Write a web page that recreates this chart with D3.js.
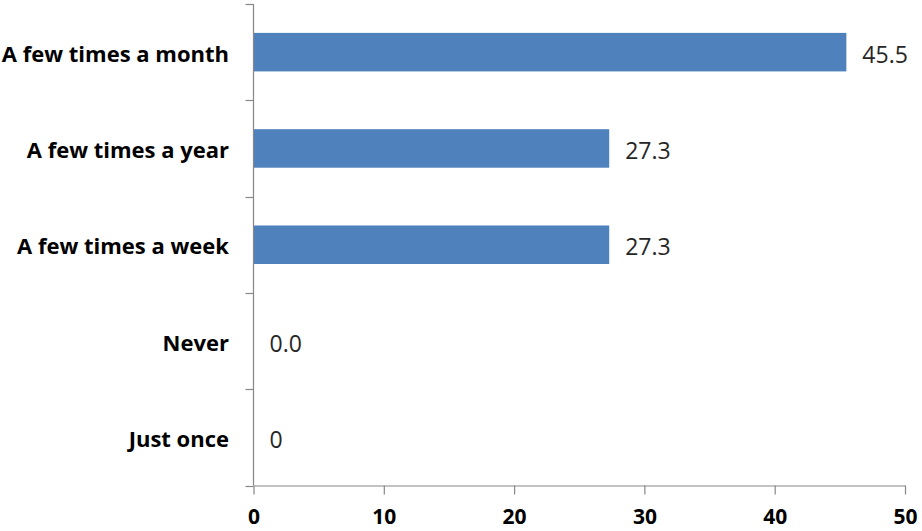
<!DOCTYPE html>
<html>
<head>
<meta charset="utf-8">
<script src="https://cdn.jsdelivr.net/npm/d3@7/dist/d3.min.js"></script>
<style>
  html, body { margin: 0; padding: 0; background: #ffffff; }
  svg { display: block; }
</style>
</head>
<body>
<svg id="chart" width="922" height="531"></svg>
<script>
const categories = ["A few times a month", "A few times a year", "A few times a week", "Never", "Just once"];
const values = [45.5, 27.3, 27.3, 0.0, 0];
const valueLabels = ["45.5", "27.3", "27.3", "0.0", "0"];
const xTicks = [0, 10, 20, 30, 40, 50];

(function () {
const svg = d3.select("#chart");
const plotLeft = 253.5, plotRight = 905, plotTop = 4, plotBottom = 485.5;

const x = d3.scaleLinear().domain([0, 50]).range([plotLeft, plotRight]);
const y = d3.scaleBand().domain(categories).range([plotTop, plotBottom])
  .paddingInner(0.6).paddingOuter(0.3);
const step = y.step();

// bars
svg.append("g").selectAll("rect")
  .data(categories)
  .join("rect")
  .attr("x", x(0))
  .attr("y", d => y(d))
  .attr("width", (d, i) => x(values[i]) - x(0))
  .attr("height", y.bandwidth())
  .attr("fill", "#4f81bd");

// value labels
svg.append("g").selectAll("text")
  .data(categories)
  .join("text")
  .attr("x", (d, i) => x(values[i]) + 16)
  .attr("y", d => y(d) + y.bandwidth() / 2 + 10.5)
  .attr("font-family", "'Open Sans', sans-serif")
  .attr("font-size", 23)
  .attr("fill", "#262626")
  .text((d, i) => valueLabels[i]);

// category labels
svg.append("g").selectAll("text")
  .data(categories)
  .join("text")
  .attr("x", 229)
  .attr("y", d => y(d) + y.bandwidth() / 2 + 9.5)
  .attr("text-anchor", "end")
  .attr("font-family", "'Open Sans', sans-serif")
  .attr("font-weight", "bold")
  .attr("font-size", 22)
  .attr("fill", "#000")
  .text(d => d);

// y axis line and boundary ticks
const axisColor = "#878787";
svg.append("line")
  .attr("x1", plotLeft).attr("x2", plotLeft)
  .attr("y1", plotTop).attr("y2", plotBottom)
  .attr("stroke", axisColor).attr("stroke-width", 1.2);
const boundaries = d3.range(categories.length + 1).map(i => plotTop + i * step);
svg.append("g").selectAll("line")
  .data(boundaries)
  .join("line")
  .attr("x1", plotLeft - 8).attr("x2", plotLeft)
  .attr("y1", d => Math.round(d) + 0.5).attr("y2", d => Math.round(d) + 0.5)
  .attr("stroke", axisColor).attr("stroke-width", 1.2);

// x axis
const xAxis = d3.axisBottom(x).tickValues(xTicks).tickSize(9).tickPadding(15).tickSizeOuter(0);
const gx = svg.append("g")
  .attr("transform", `translate(0,${plotBottom})`)
  .call(xAxis);
gx.select(".domain").attr("stroke", axisColor).attr("stroke-width", 1.2);
gx.selectAll(".tick line").attr("stroke", axisColor).attr("stroke-width", 1.2);
gx.selectAll(".tick text")
  .attr("font-family", "'Open Sans', sans-serif")
  .attr("font-weight", "bold")
  .attr("font-size", 21)
  .attr("fill", "#000");
})();
</script>
</body>
</html>
